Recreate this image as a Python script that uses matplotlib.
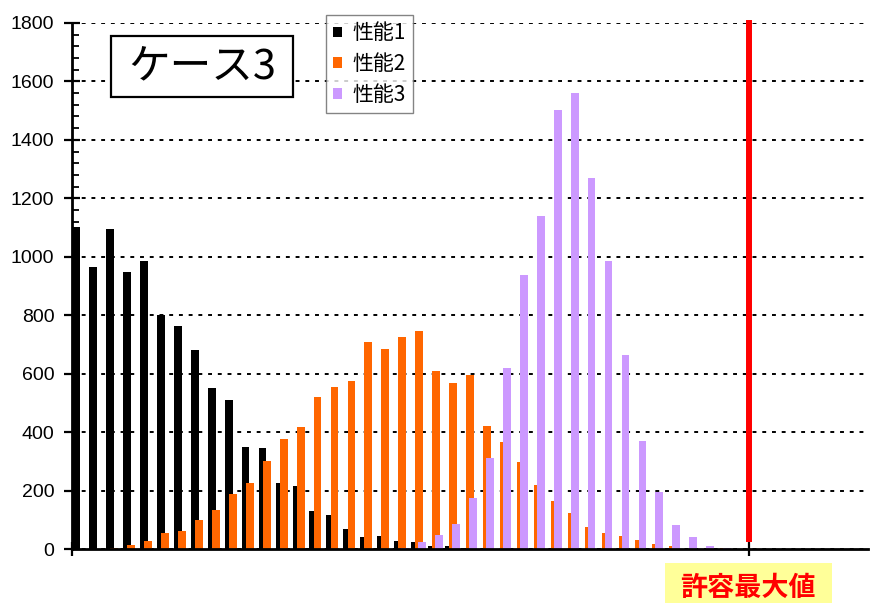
import numpy as np
import matplotlib
matplotlib.use("Agg")
import matplotlib.pyplot as plt
from matplotlib.patches import Rectangle
from matplotlib.ticker import MultipleLocator

plt.rcParams['font.family'] = ['Liberation Sans', 'Noto Sans CJK JP', 'DejaVu Sans']
JP = ['Noto Sans CJK JP', 'DejaVu Sans']

# Histogram counts per bin for the three performance measures
series_names = ["性能1", "性能2", "性能3"]
perf1 = [1100, 964, 1096, 947, 986, 800, 764, 680, 551, 511,
         350, 346, 227, 214, 130, 116, 67, 40, 44, 27,
         24, 9, 9, 5, 0, 0, 0, 0, 0, 0,
         0, 0, 0, 0, 0, 0, 0, 0, 0]
perf2 = [0, 0, 3, 14, 27, 55, 63, 98, 133, 187,
         227, 302, 378, 417, 520, 555, 574, 707, 684, 724,
         746, 609, 569, 596, 422, 365, 298, 218, 164, 124,
         75, 54, 44, 31, 18, 9, 0, 0, 3]
perf3 = [0, 0, 0, 0, 0, 0, 0, 0, 0, 0,
         0, 0, 0, 0, 0, 0, 0, 0, 0, 4,
         23, 49, 84, 173, 311, 618, 937, 1141, 1502, 1559,
         1270, 985, 663, 368, 195, 81, 40, 10, 4]
colors = ["#000000", "#FF6600", "#CC99FF"]

# Allowable maximum marker (bin boundary) and its drawn extent
limit_bin = 40
limit_range = (35, 1800)
limit_label = "許容最大値"
case_label = "ケース3"

yticks = list(range(0, 1801, 200))

W, H = 877, 603
fig = plt.figure(figsize=(W / 100, H / 100), dpi=100)
ax = fig.add_axes([72 / W, 54 / H, (868 - 72) / W, (580.1 - 54) / H])

bins = np.arange(len(perf1))
bar_w = 0.46
offsets = [0.02, 0.27, 0.45]
handles = []
for vals, off, col, name in zip([perf1, perf2, perf3], offsets, colors, series_names):
    h = ax.bar(bins + off, vals, width=bar_w, align='edge', color=col,
               linewidth=0, label=name, zorder=2)
    handles.append(h)

ax.plot([limit_bin, limit_bin], list(limit_range), color="#FF0000", linewidth=4.3,
        solid_capstyle='projecting', zorder=3, clip_on=False)

ax.set_xlim(0, 47)
ax.set_ylim(0, 1800)
ax.set_xticks([0, limit_bin])
ax.set_xticklabels([])
ax.set_yticks(yticks)
ax.set_yticklabels([str(v) for v in yticks])
ax.yaxis.set_minor_locator(MultipleLocator(40))

ax.tick_params(axis='x', which='major', direction='inout', length=10, width=1.6, color='black')
ax.tick_params(axis='y', which='major', direction='inout', length=11.5, width=1.6,
               pad=7, labelsize=14, color='black')
ax.tick_params(axis='y', which='minor', direction='in', length=5, width=1.3, color='black')

ax.set_axisbelow(True)
ax.yaxis.grid(True, which='major', color='black', linestyle=(0, (2, 3)), linewidth=1.4)
for s in ('top', 'right'):
    ax.spines[s].set_visible(False)
for s in ('left', 'bottom'):
    ax.spines[s].set_linewidth(2)
    ax.spines[s].set_zorder(4)

leg = ax.legend(handles=handles, loc='upper left',
                bbox_to_anchor=(326 / W, 1 - 15 / H), bbox_transform=fig.transFigure,
                borderaxespad=0, frameon=True, fancybox=False, shadow=False,
                prop={'family': JP, 'size': 15}, handlelength=0.4, handleheight=0.4,
                handletextpad=0.5, labelspacing=0.42, borderpad=0.35)
leg.get_frame().set_edgecolor('#666666')
leg.get_frame().set_linewidth(1.0)
leg.set_zorder(6)

# Case title box
fig.add_artist(Rectangle((111 / W, 1 - 97 / H), 182 / W, 61 / H, transform=fig.transFigure,
                         facecolor='white', edgecolor='black', linewidth=1.6, zorder=5))
fig.text(202 / W, 1 - 67 / H, case_label, ha='center', va='center', fontsize=30,
         family=JP, color='black', zorder=6)

# Allowable maximum label
fig.add_artist(Rectangle((665 / W, 0), 167 / W, 40 / H, transform=fig.transFigure,
                         facecolor='#FFFF99', edgecolor='none', zorder=5))
fig.text(748 / W, 1 - 588 / H, limit_label, ha='center', va='center', fontsize=19.5,
         family=JP, fontweight='bold', color='#FF0000', zorder=6)

fig.savefig("out.png", dpi=100)
